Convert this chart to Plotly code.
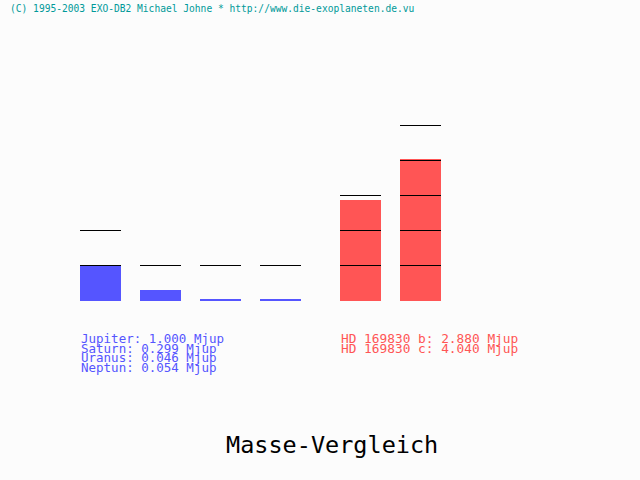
import math
import plotly.graph_objects as go

# ---- data ----
solar_names = ["Jupiter", "Saturn", "Uranus", "Neptun"]
solar_mass = [1.000, 0.299, 0.046, 0.054]
exo_names = ["HD 169830 b", "HD 169830 c"]
exo_mass = [2.880, 4.040]
header = "(C) 1995-2003 EXO-DB2 Michael Johne * http://www.die-exoplaneten.de.vu"
title = "Masse-Vergleich"
unit = "Mjup"

# ---- layout constants (pixels) ----
W, H = 640, 480
BASE_Y = 300.5        # pixel row of zero mass (half-pixel for crisp 1px lines)
PX_PER_MJUP = 35
BAR_W = 41
STEP = 60
SOLAR_X0 = 100.5
EXO_X0 = 360.5
BLUE = "#5555FF"
RED = "#FF5555"
BG = "#FCFCFC"

ymax = BASE_Y / PX_PER_MJUP
ymin = -(H - BASE_Y) / PX_PER_MJUP

solar_x = [SOLAR_X0 + STEP * i for i in range(len(solar_mass))]
exo_x = [EXO_X0 + STEP * i for i in range(len(exo_mass))]

fig = go.Figure()
fig.add_trace(go.Bar(x=solar_x, y=solar_mass, width=BAR_W, marker=dict(color=BLUE, line=dict(width=0)),
                     showlegend=False, hoverinfo="skip"))
fig.add_trace(go.Bar(x=exo_x, y=exo_mass, width=BAR_W, marker=dict(color=RED, line=dict(width=0)),
                     showlegend=False, hoverinfo="skip"))

# grid marks at each integer level up to floor(mass)+1
lx, ly = [], []
for xs, ms in ((solar_x, solar_mass), (exo_x, exo_mass)):
    for x, m in zip(xs, ms):
        for k in range(1, int(math.floor(m)) + 2):
            lx += [x - BAR_W / 2, x + BAR_W / 2, None]
            ly += [k, k, None]
fig.add_trace(go.Scatter(x=lx, y=ly, mode="lines", line=dict(color="black", width=1),
                         showlegend=False, hoverinfo="skip"))

ann = []
def px(x, y, text, size, color, xanchor="left"):
    ann.append(dict(x=x / W, y=1 - y / H, xref="paper", yref="paper", text=text, showarrow=False,
                    xanchor=xanchor, yanchor="middle",
                    font=dict(family="DejaVu Sans Mono", size=size, color=color)))

px(8, 8, header, 9.6, "#009999")
for i, (n, m) in enumerate(zip(solar_names, solar_mass)):
    px(79, 338.5 + 9.6 * i, f"{n}: {m:.3f} {unit}", 12.5, BLUE)
for i, (n, m) in enumerate(zip(exo_names, exo_mass)):
    px(339, 338.5 + 9.6 * i, f"{n}: {m:.3f} {unit}", 12.8, RED)
px(332, 445, title, 23.5, "black", xanchor="center")

fig.update_layout(
    width=W, height=H, autosize=False,
    margin=dict(l=0, r=0, t=0, b=0, pad=0),
    paper_bgcolor=BG, plot_bgcolor=BG,
    xaxis=dict(range=[0, W], visible=False, fixedrange=True),
    yaxis=dict(range=[ymin, ymax], visible=False, fixedrange=True),
    bargap=0,
    annotations=ann,
)

fig.write_html("out.html", config={"displayModeBar": False},
               post_script="document.body.style.margin='0';")
